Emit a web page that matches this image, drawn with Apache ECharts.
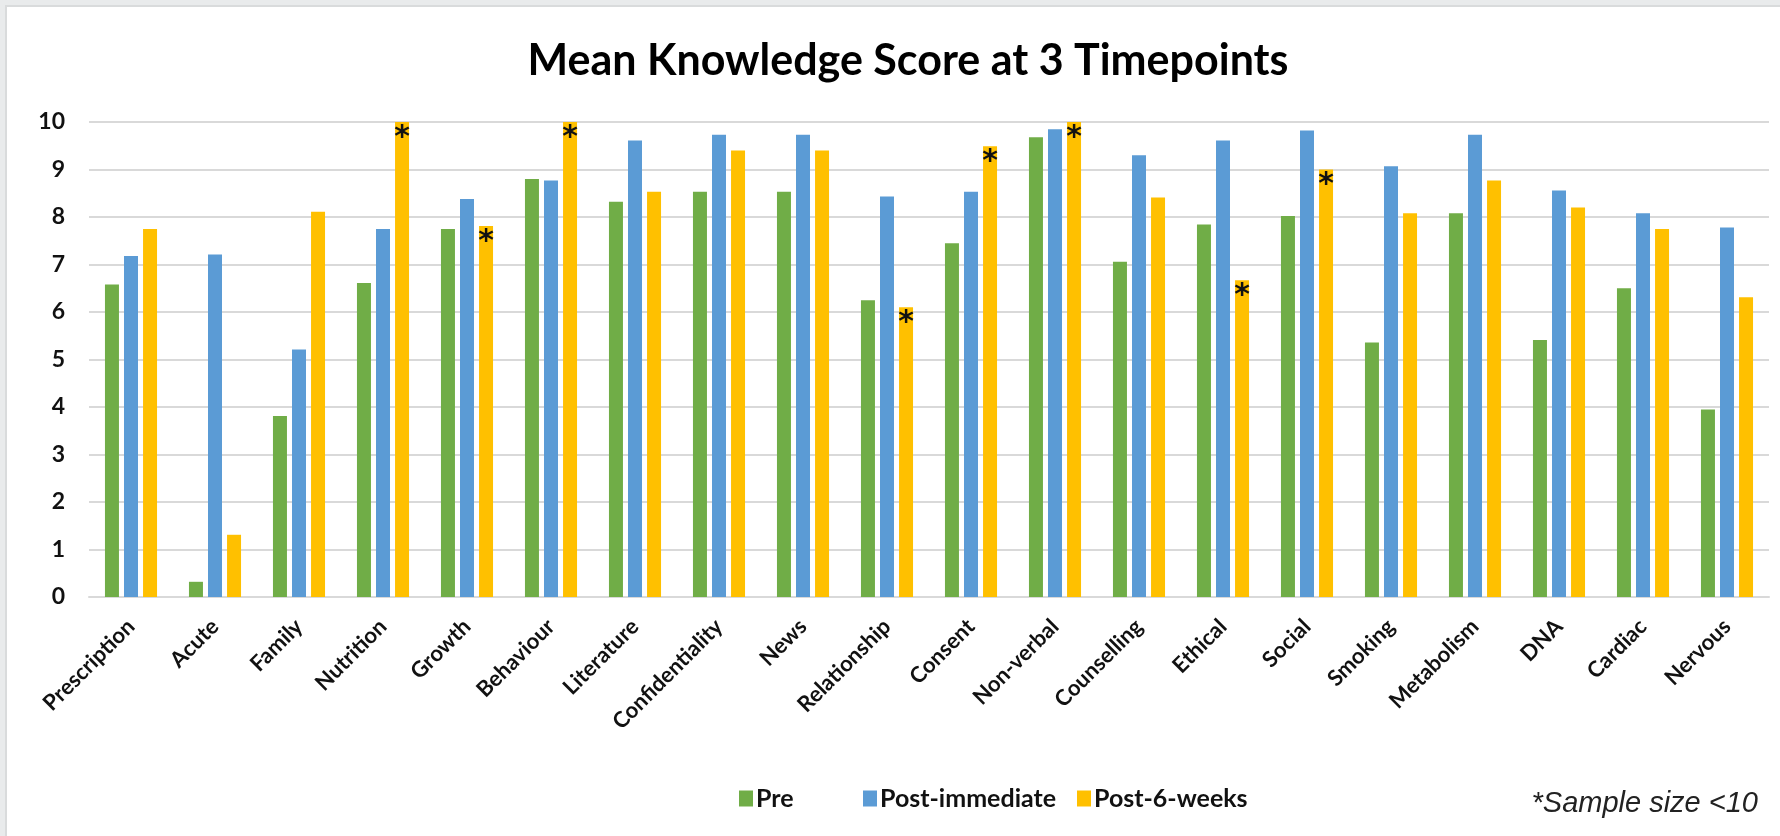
<!DOCTYPE html>
<html>
<head>
<meta charset="utf-8">
<style>
  html, body { margin: 0; padding: 0; background: #ffffff; }
  #chart { width: 1780px; height: 836px; }
</style>
<script src="https://cdn.jsdelivr.net/npm/echarts@6/dist/echarts.min.js"></script>
</head>
<body>
<div id="chart"></div>
<script>
// Topics assessed
const categories = ['Prescription', 'Acute', 'Family', 'Nutrition', 'Growth', 'Behaviour', 'Literature',
  'Confidentiality', 'News', 'Relationship', 'Consent', 'Non-verbal', 'Counselling', 'Ethical',
  'Social', 'Smoking', 'Metabolism', 'DNA', 'Cardiac', 'Nervous'];

// Mean knowledge score per topic at each timepoint
const preScores = [6.58, 0.32, 3.81, 6.61, 7.75, 8.80, 8.32, 8.53, 8.53, 6.25,
  7.45, 9.68, 7.06, 7.84, 8.02, 5.36, 8.08, 5.41, 6.50, 3.95];
const postImmediateScores = [7.18, 7.21, 5.21, 7.75, 8.38, 8.77, 9.61, 9.73, 9.73, 8.43,
  8.53, 9.85, 9.30, 9.61, 9.82, 9.07, 9.73, 8.56, 8.08, 7.78];
const postSixWeekScores = [7.75, 1.31, 8.11, 10.0, 7.81, 10.0, 8.53, 9.40, 9.40, 6.10,
  9.49, 10.0, 8.41, 6.67, 9.00, 8.08, 8.77, 8.20, 7.75, 6.31];

// Topics whose 6-week follow-up had fewer than 10 respondents
const smallSampleCategories = ['Nutrition', 'Growth', 'Behaviour', 'Relationship', 'Consent',
  'Non-verbal', 'Ethical', 'Social'];

// Score axis
const yMin = 0, yMax = 10, yStep = 1;

const seriesNames = ['Pre', 'Post-immediate', 'Post-6-weeks'];
const colors = ['#70AD47', '#5B9BD5', '#FFC000'];

const chart = echarts.init(document.getElementById('chart'), null, { renderer: 'canvas' });

const baseFont = 'Lato, "Open Sans", sans-serif';

function legendFor(name, left) {
  return {
    data: [name],
    left: left,
    top: 781,
    itemWidth: 14,
    itemHeight: 16,
    itemGap: 0,
    icon: 'rect',
    textStyle: { fontFamily: baseFont, fontWeight: 'bold', fontSize: 25, color: '#111', padding: [0, 0, 0, -2] }
  };
}

const option = {
  backgroundColor: '#ffffff',
  animation: false,
  color: colors,
  title: {
    text: 'Mean Knowledge Score at 3 Timepoints',
    left: 903,
    textAlign: 'center',
    top: 35,
    textStyle: { fontFamily: baseFont, fontWeight: 'bold', fontSize: 43, color: '#000' }
  },
  legend: [
    legendFor('Pre', 734),
    legendFor('Post-immediate', 858),
    legendFor('Post-6-weeks', 1072)
  ],
  grid: { left: 89, right: 11, top: 122, bottom: 239, containLabel: false },
  xAxis: {
    type: 'category',
    data: categories,
    axisTick: { show: false },
    axisLine: { show: true, lineStyle: { color: '#d9d9d9', width: 2 } },
    axisLabel: {
      rotate: 45,
      margin: 26,
      interval: 0,
      fontFamily: baseFont,
      fontWeight: 'bold',
      fontSize: 22,
      color: '#111'
    }
  },
  yAxis: {
    type: 'value',
    min: yMin,
    max: yMax,
    interval: yStep,
    axisLine: { show: false },
    axisTick: { show: false },
    splitLine: { lineStyle: { color: '#d9d9d9', width: 2 } },
    axisLabel: { margin: 24, fontFamily: baseFont, fontWeight: 'bold', fontSize: 23, color: '#111' }
  },
  series: [
    {
      name: seriesNames[0], type: 'bar', barWidth: 14, barGap: '36%',
      data: preScores
    },
    {
      name: seriesNames[1], type: 'bar', barWidth: 14, barGap: '36%',
      data: postImmediateScores
    },
    {
      name: seriesNames[2], type: 'bar', barWidth: 14, barGap: '36%',
      data: postSixWeekScores.map((v, i) => ({
        value: v,
        label: { show: smallSampleCategories.includes(categories[i]) }
      })),
      label: {
        position: 'insideTop',
        distance: 1,
        formatter: '*',
        fontFamily: '"DejaVu Sans", sans-serif',
        fontWeight: 'bold',
        fontSize: 30,
        color: '#111'
      }
    }
  ],
  graphic: [
    // light grey frame along the top and left edges
    { type: 'rect', left: 0, top: 0, shape: { width: 1780, height: 5 }, style: { fill: '#e9ebec' }, silent: true },
    { type: 'rect', left: 0, top: 5, shape: { width: 1780, height: 2 }, style: { fill: '#d9dbdc' }, silent: true },
    { type: 'rect', left: 0, top: 0, shape: { width: 5, height: 836 }, style: { fill: '#e9ebec' }, silent: true },
    { type: 'rect', left: 5, top: 5, shape: { width: 2, height: 831 }, style: { fill: '#d9dbdc' }, silent: true },
    {
      type: 'text',
      right: 22,
      top: 789,
      style: {
        text: '*Sample size <10',
        font: 'italic 29px "Liberation Sans", Arial, sans-serif',
        fill: '#222'
      }
    }
  ]
};

chart.setOption(option);
</script>
</body>
</html>
